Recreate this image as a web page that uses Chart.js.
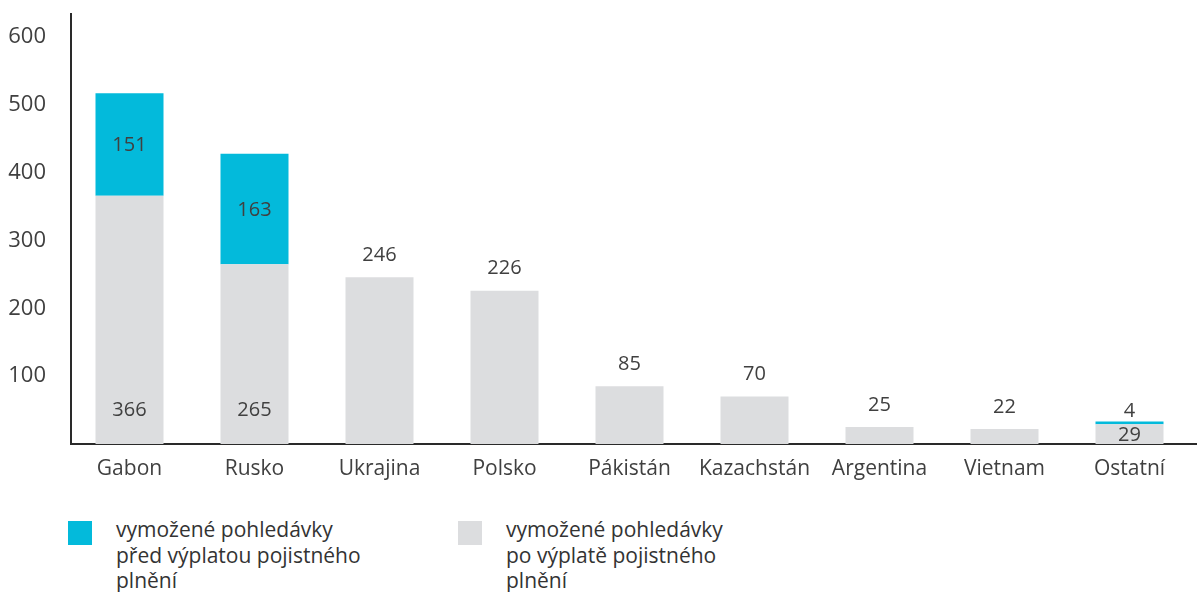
<!DOCTYPE html>
<html>
<head>
<meta charset="utf-8">
<script src="https://cdn.jsdelivr.net/npm/chart.js@4.4.0/dist/chart.umd.min.js"></script>
<style>
  html, body { margin: 0; padding: 0; background: #fff; }
  body { width: 1201px; height: 592px; overflow: hidden; position: relative; font-family: "Open Sans", sans-serif; }
  #wrap { position: absolute; left: 0; top: 0; width: 1201px; height: 500px; }
  .legend { position: absolute; top: 517px; display: flex; align-items: flex-start; }
  .legend .box { width: 24px; height: 24px; margin-top: 4px; margin-right: 24px; }
  .legend .txt { font-size: 21px; line-height: 25.5px; color: #333; }
</style>
</head>
<body>
<div id="wrap"><canvas id="chart"></canvas></div>
<div class="legend" style="left:68px"><div class="box" style="background:#03badb"></div><div class="txt">vymožené pohledávky<br>před výplatou pojistného<br>plnění</div></div>
<div class="legend" style="left:458px"><div class="box" style="background:#dcdddf"></div><div class="txt">vymožené pohledávky<br>po výplatě pojistného<br>plnění</div></div>
<script>
const categories = ["Gabon", "Rusko", "Ukrajina", "Polsko", "Pákistán", "Kazachstán", "Argentina", "Vietnam", "Ostatní"];
const poVyplate = [366, 265, 246, 226, 85, 70, 25, 22, 29];
const predVyplatou = [151, 163, 0, 0, 0, 0, 0, 0, 4];
const yTicks = [100, 200, 300, 400, 500, 600];

const CYAN = "#03badb";
const GRAY = "#dcdddf";
const TEXT = "#404040";

const labelPlugin = {
  id: "valueLabels",
  afterDatasetsDraw(chart) {
    const ctx = chart.ctx;
    const grayMeta = chart.getDatasetMeta(0);
    const cyanMeta = chart.getDatasetMeta(1);
    ctx.save();
    ctx.font = "20px 'Open Sans'";
    ctx.fillStyle = TEXT;
    ctx.textAlign = "center";
    ctx.textBaseline = "middle";
    categories.forEach((c, i) => {
      const g = grayMeta.data[i];
      const cy = cyanMeta.data[i];
      const cyanVal = predVyplatou[i];
      const cyanH = cy.base - cy.y;
      if (cyanVal > 0) {
        if (cyanH > 30) {
          ctx.fillText(cyanVal, cy.x, (cy.y + cy.base) / 2 + 1);
          ctx.fillText(poVyplate[i], g.x, g.base - 34);
        } else {
          ctx.fillText(cyanVal, cy.x, cy.y - 10);
          ctx.fillText(poVyplate[i], g.x, (g.y + g.base) / 2 + 1);
        }
      } else {
        ctx.fillText(poVyplate[i], g.x, g.y - 22);
      }
    });
    ctx.restore();
  }
};

new Chart(document.getElementById("chart"), {
  type: "bar",
  data: {
    labels: categories,
    datasets: [
      { label: "po výplatě pojistného plnění", data: poVyplate, backgroundColor: GRAY },
      { label: "před výplatou pojistného plnění", data: predVyplatou, backgroundColor: CYAN }
    ]
  },
  options: {
    responsive: true,
    maintainAspectRatio: false,
    animation: false,
    layout: { padding: { top: 14, right: 5, left: 0, bottom: 0 } },
    datasets: { bar: { categoryPercentage: 1, barPercentage: 0.544 } },
    plugins: { legend: { display: false }, tooltip: { enabled: false } },
    scales: {
      x: {
        stacked: true,
        grid: { display: false, drawTicks: false },
        border: { display: true, color: "#2a2a2a", width: 2 },
        ticks: { color: TEXT, font: { family: "'Open Sans'", size: 21 }, padding: 12, maxRotation: 0 },
        afterBuildTicks(scale) {
          // first category sits a little left of the axis line
          scale._startValue = -0.468;
          scale._valueRange = categories.length;
        },
        afterFit(scale) { scale.height = 56; }
      },
      y: {
        stacked: true,
        min: 0,
        max: 634,
        grid: { display: false, drawTicks: false },
        border: { display: true, color: "#2a2a2a", width: 2 },
        afterBuildTicks(scale) { scale.ticks = yTicks.map(v => ({ value: v })); },
        ticks: { color: TEXT, font: { family: "'Open Sans'", size: 22 }, padding: 25 },
        afterFit(scale) {
          scale.width = 71;
          scale.paddingTop = 0;
          scale.paddingBottom = 0;
        }
      }
    }
  },
  plugins: [labelPlugin]
});
</script>
</body>
</html>
